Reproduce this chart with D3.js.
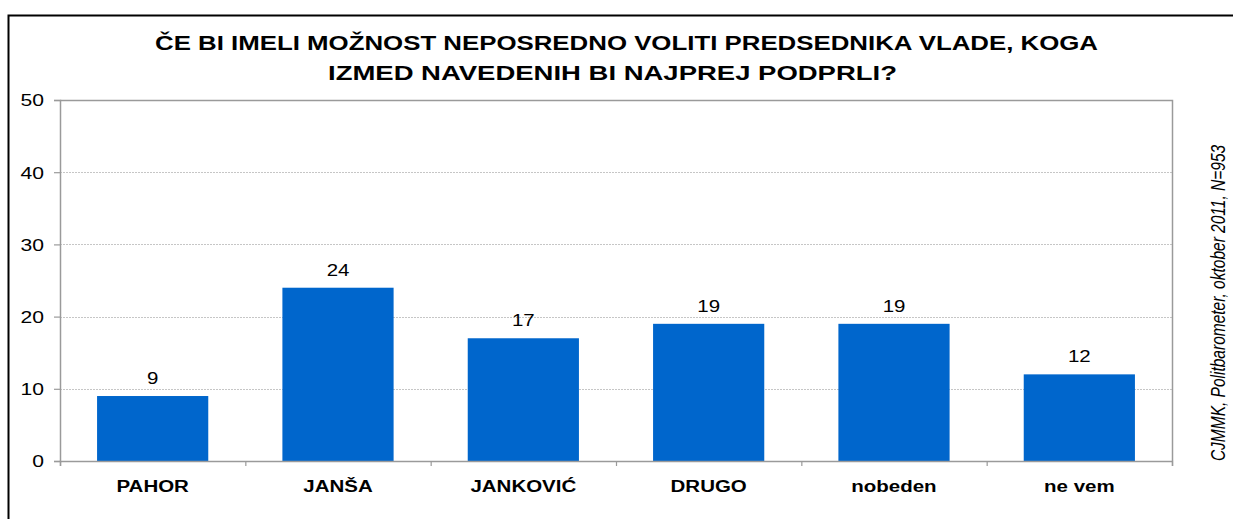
<!DOCTYPE html>
<html>
<head>
<meta charset="utf-8">
<script src="https://cdn.jsdelivr.net/npm/d3@7"></script>
<style>
  html, body { margin: 0; padding: 0; background: #fff; }
  svg { display: block; }
</style>
</head>
<body>
<div id="chart"></div>
<script>
// Survey answers (percent of respondents)
const categories = ["PAHOR", "JANŠA", "JANKOVIĆ", "DRUGO", "nobeden", "ne vem"];
const values = [9, 24, 17, 19, 19, 12];
const yTicks = [0, 10, 20, 30, 40, 50];
const titleLines = [
  "ČE BI IMELI MOŽNOST NEPOSREDNO VOLITI PREDSEDNIKA VLADE, KOGA",
  "IZMED NAVEDENIH BI NAJPREJ PODPRLI?"
];
const sourceNote = "CJMMK, Politbarometer,  oktober 2011, N=953";

const W = 1233, H = 519;
const plot = { left: 60, right: 1172, top: 100, bottom: 461 };
const FONT = "Arial, 'Liberation Sans', sans-serif";
const SX = 1.28;   // horizontal widening of the lettering

const svg = d3.select("#chart").append("svg")
  .attr("width", W).attr("height", H)
  .style("font-family", FONT);

// outer chart frame (runs off the right and bottom edges)
svg.append("rect")
  .attr("x", 8.5).attr("y", 15.5)
  .attr("width", W + 20).attr("height", H + 20)
  .attr("fill", "none").attr("stroke", "#000").attr("stroke-width", 2);

const x = d3.scaleBand().domain(categories)
  .range([plot.left, plot.right]).paddingInner(0.4).paddingOuter(0.2);
const xEdges = d3.scaleLinear().domain([0, categories.length])
  .range([plot.left, plot.right]);
const y = d3.scaleLinear().domain([0, 50]).range([plot.bottom, plot.top]);

// gridlines
svg.append("g").selectAll("line")
  .data(yTicks.filter(t => t > 0 && t < 50))
  .join("line")
  .attr("x1", plot.left).attr("x2", plot.right)
  .attr("y1", d => Math.round(y(d)) + 0.5).attr("y2", d => Math.round(y(d)) + 0.5)
  .attr("stroke", "#c6c6c6").attr("stroke-width", 1)
  .attr("stroke-dasharray", "2,1");

// plot frame: top and right edges
svg.append("path")
  .attr("d", `M${plot.left},${plot.top + 0.5}H${plot.right + 0.5}V${plot.bottom}`)
  .attr("fill", "none").attr("stroke", "#9a9a9a").attr("stroke-width", 1.5);

// bars
svg.append("g").selectAll("rect")
  .data(categories)
  .join("rect")
  .attr("x", d => x(d))
  .attr("width", x.bandwidth())
  .attr("y", (d, i) => y(values[i]))
  .attr("height", (d, i) => y(0) - y(values[i]))
  .attr("fill", "#0066cc");

// value labels
svg.append("g").selectAll("text")
  .data(categories)
  .join("text")
  .attr("transform", (d, i) =>
    `translate(${x(d) + x.bandwidth() / 2},${y(values[i]) - 12}) scale(${SX},1)`)
  .attr("text-anchor", "middle")
  .attr("font-size", 16)
  .attr("fill", "#000")
  .text((d, i) => values[i]);

// y axis
const yAxis = svg.append("g")
  .attr("transform", `translate(${plot.left},0)`)
  .call(d3.axisLeft(y).tickValues(yTicks).tickSize(6).tickPadding(0).tickFormat(""));
yAxis.select(".domain").attr("stroke", "#9a9a9a").attr("stroke-width", 1.5);
yAxis.selectAll(".tick line").attr("stroke", "#9a9a9a").attr("stroke-width", 1.2);
yAxis.selectAll(".tick").append("text")
  .attr("transform", `translate(-16,0) scale(${SX},1)`)
  .attr("dy", "0.36em")
  .attr("text-anchor", "end")
  .attr("font-size", 16.5)
  .attr("fill", "#000")
  .style("font-family", FONT)
  .text(d => d);

// x axis: ticks sit between categories
const xAxis = svg.append("g")
  .attr("transform", `translate(0,${plot.bottom})`)
  .call(d3.axisBottom(xEdges).tickValues(d3.range(categories.length + 1))
    .tickSize(5).tickFormat(""));
xAxis.select(".domain").attr("stroke", "#9a9a9a").attr("stroke-width", 1.5);
xAxis.selectAll(".tick line").attr("stroke", "#9a9a9a").attr("stroke-width", 1.2);

// category labels
svg.append("g").selectAll("text")
  .data(categories)
  .join("text")
  .attr("transform", d => `translate(${x(d) + x.bandwidth() / 2},492) scale(${SX},1)`)
  .attr("text-anchor", "middle")
  .attr("font-size", 16)
  .attr("font-weight", "bold")
  .attr("fill", "#000")
  .text(d => d);

// title, two lines stretched to their set widths
const titleLayout = [
  { x: 155, y: 50, len: 943 },
  { x: 328, y: 80, len: 569 }
];
svg.append("g").selectAll("text")
  .data(titleLines)
  .join("text")
  .attr("x", (d, i) => titleLayout[i].x)
  .attr("y", (d, i) => titleLayout[i].y)
  .attr("textLength", (d, i) => titleLayout[i].len)
  .attr("lengthAdjust", "spacingAndGlyphs")
  .attr("font-size", 20)
  .attr("font-weight", "bold")
  .attr("fill", "#000")
  .text(d => d);

// source note, vertical on the right
svg.append("text")
  .attr("transform", `translate(1225,303) scale(${SX},1) rotate(-90)`)
  .attr("text-anchor", "middle")
  .attr("font-size", 15.5)
  .attr("font-style", "italic")
  .attr("fill", "#000")
  .text(sourceNote);
</script>
</body>
</html>
